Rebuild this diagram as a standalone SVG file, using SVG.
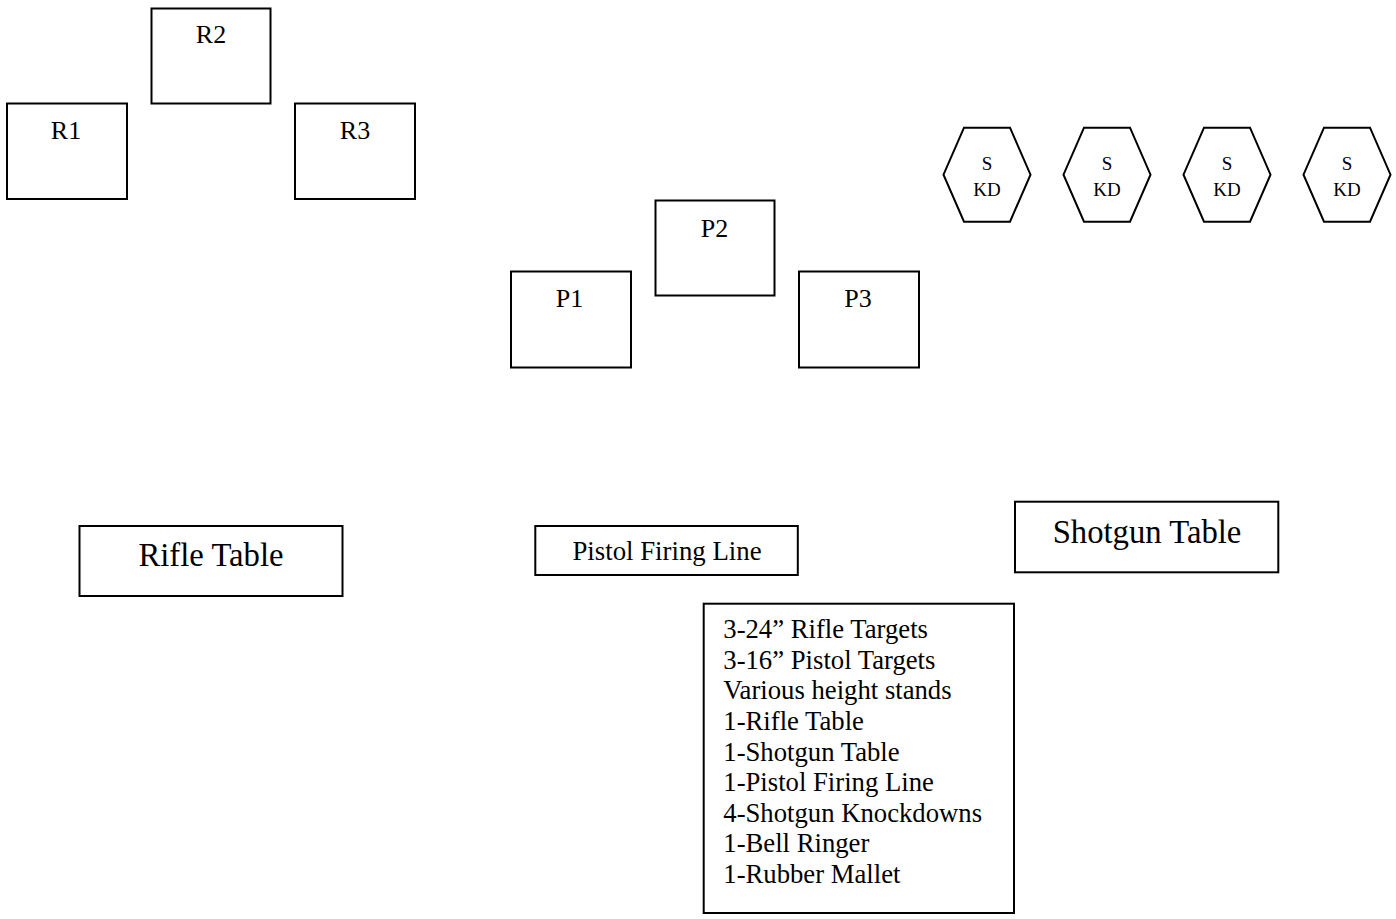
<svg xmlns="http://www.w3.org/2000/svg" width="1396" height="919" viewBox="0 0 1396 919">
<style>
.b{fill:#fff;stroke:#000;stroke-width:2}
text{font-family:"Liberation Serif","Times New Roman",serif;fill:#000}
.t{font-size:26px;text-anchor:middle}
.h{font-size:19px;text-anchor:middle}
.big{font-size:32.7px;text-anchor:middle}
.mid{font-size:26.8px;text-anchor:middle}
.l{font-size:26.7px}
</style>
<defs>
<polygon id="hex" points="-23,-47 23,-47 43.5,0 23,47 -23,47 -43.5,0"/>
</defs>
<rect width="1396" height="919" fill="#fff"/>
<g id="connectors"/>
<g id="R2"><rect class="b" x="151.5" y="8.5" width="119" height="95"/><text class="t" x="211" y="42.7">R2</text></g>
<g id="R1"><rect class="b" x="7" y="103.5" width="120" height="95.5"/><text class="t" x="66" y="139.3">R1</text></g>
<g id="R3"><rect class="b" x="295" y="103.5" width="120" height="95.5"/><text class="t" x="355" y="139.3">R3</text></g>
<g id="P2"><rect class="b" x="655.5" y="200.5" width="119" height="95"/><text class="t" x="714.5" y="236.7">P2</text></g>
<g id="P1"><rect class="b" x="511" y="271.5" width="120" height="96"/><text class="t" x="569.5" y="307.3">P1</text></g>
<g id="P3"><rect class="b" x="799" y="271.5" width="120" height="96"/><text class="t" x="858" y="307.3">P3</text></g>
<g id="SKD1"><use href="#hex" class="b" x="987" y="174.7"/><text class="h" x="987" y="170">S</text><text class="h" x="987" y="196">KD</text></g>
<g id="SKD2"><use href="#hex" class="b" x="1107" y="174.7"/><text class="h" x="1107" y="170">S</text><text class="h" x="1107" y="196">KD</text></g>
<g id="SKD3"><use href="#hex" class="b" x="1227" y="174.7"/><text class="h" x="1227" y="170">S</text><text class="h" x="1227" y="196">KD</text></g>
<g id="SKD4"><use href="#hex" class="b" x="1347" y="174.7"/><text class="h" x="1347" y="170">S</text><text class="h" x="1347" y="196">KD</text></g>
<g id="rifle-table"><rect class="b" x="79.5" y="526" width="263" height="70"/><text class="big" x="211" y="566">Rifle Table</text></g>
<g id="pistol-line"><rect class="b" x="535.3" y="526" width="262.5" height="49"/><text class="mid" x="667" y="560">Pistol Firing Line</text></g>
<g id="shotgun-table"><rect class="b" x="1015" y="501.7" width="263.3" height="70.6"/><text class="big" x="1147" y="543">Shotgun Table</text></g>
<g id="list"><rect class="b" x="703.7" y="603.7" width="310.3" height="309.3"/>
<text class="l" x="723.3" y="638.3">3-24” Rifle Targets</text>
<text class="l" x="723.3" y="668.8">3-16” Pistol Targets</text>
<text class="l" x="723.3" y="699.4">Various height stands</text>
<text class="l" x="723.3" y="729.9">1-Rifle Table</text>
<text class="l" x="723.3" y="760.5">1-Shotgun Table</text>
<text class="l" x="723.3" y="791">1-Pistol Firing Line</text>
<text class="l" x="723.3" y="821.5">4-Shotgun Knockdowns</text>
<text class="l" x="723.3" y="852.1">1-Bell Ringer</text>
<text class="l" x="723.3" y="882.6">1-Rubber Mallet</text>
</g>
</svg>
